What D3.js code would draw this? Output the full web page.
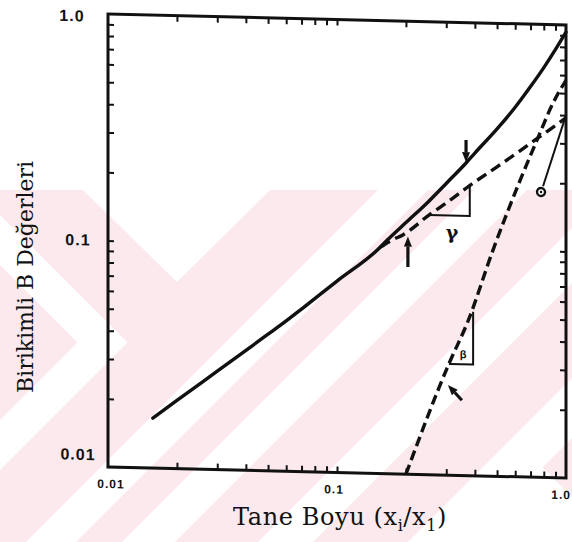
<!DOCTYPE html>
<html>
<head>
<meta charset="utf-8">
<script src="https://cdn.jsdelivr.net/npm/d3@7"></script>
<style>
  body { margin: 0; background: #fff; }
  svg { display: block; }
</style>
</head>
<body>
<svg id="chart" width="572" height="542"></svg>
<script>
// ---- data (log-log, fraction of largest size vs cumulative B) ----
const tickValuesX = [0.01, 0.1, 1];
const tickLabelsX = ["0.01", "0.1", "1.0"];
const tickValuesY = [1, 0.1, 0.01];
const tickLabelsY = ["1.0", "0.1", "0.01"];
const minorTicks = [0.02, 0.03, 0.04, 0.05, 0.06, 0.07, 0.08, 0.09,
                    0.2, 0.3, 0.4, 0.5, 0.6, 0.7, 0.8, 0.9];

// solid curve: cumulative breakage function
const solidX = [0.0157, 0.02, 0.03, 0.05, 0.06, 0.07, 0.1, 0.15, 0.165, 0.2, 0.25, 0.3, 0.366, 0.4, 0.5, 0.6, 0.7, 0.8, 0.9, 1.0];
const solidY = [0.0166, 0.0200, 0.0272, 0.0401, 0.0461, 0.0522, 0.070, 0.097, 0.107, 0.129, 0.160, 0.194, 0.240, 0.266, 0.342, 0.428, 0.530, 0.645, 0.778, 0.930];

// dashed curve with slope gamma
const gammaX = [0.155, 0.175, 0.194, 0.252, 0.3, 0.377, 0.5, 0.623, 0.7, 0.8, 0.9, 1.0];
const gammaY = [0.100, 0.108, 0.1137, 0.140, 0.159, 0.190, 0.2325, 0.273, 0.298, 0.329, 0.359, 0.389];

// dashed line with slope beta
const betaX = [0.2, 0.308, 0.373, 0.48, 0.623, 0.747, 0.878, 1.0];
const betaY = [0.01, 0.031, 0.048, 0.0997, 0.198, 0.308, 0.451, 0.57];

// slope triangles [x0, x1, yLow, yHigh]
const gammaTri = [0.252, 0.38, 0.140, 0.192];
const betaTri = [0.308, 0.393, 0.031, 0.053];

// annotation arrows: [tailX, tailY, headX, headY]
const arrows = [
  [0.204, 0.0822, 0.204, 0.112],
  [0.366, 0.303, 0.366, 0.242],
  [0.351, 0.0215, 0.305, 0.0250]
];

// phi marker and its leader
const phiPoint = [0.778, 0.182];
const phiLeader = [[0.794, 0.193], [1.0, 0.40]];

// annotation labels [x, y, text]
const gammaLabel = [0.318, 0.1187, "γ"];
const betaLabel = [0.355, 0.0344, "β"];

// light pink watermark band shapes behind the chart
const backdropRect = [0, 190, 572, 352];
const backdropGaps = [
  [[83, 190], [270, 190], [177, 282]],
  [[0, 215], [127.5, 342.5], [0, 470], [0, 420], [77.5, 342.5], [0, 265]],
  [[378, 190], [428, 190], [76, 542], [26, 542]],
  [[474, 190], [527, 190], [175, 542], [122, 542]],
  [[572, 228], [572, 283], [313, 542], [258, 542]],
  [[572, 378], [572, 438], [468, 542], [408, 542]],
  [[529, 454], [572, 497], [572, 542], [441, 542]]
];

// ---- layout ----
const frameLeft = 108, frameRight = 566, frameTop = 14, frameBottom = 467;
const skewDeg = 1.375;
const ink = "#111";

const svg = d3.select("#chart");

// watermark
const wm = svg.append("g");
wm.append("rect")
  .attr("x", backdropRect[0]).attr("y", backdropRect[1])
  .attr("width", backdropRect[2]).attr("height", backdropRect[3])
  .attr("fill", "#fce9ed");
wm.selectAll("polygon").data(backdropGaps).join("polygon")
  .attr("points", d => d.map(p => p.join(",")).join(" "))
  .attr("fill", "#ffffff");

const x = d3.scaleLog().domain([0.01, 1]).range([frameLeft, frameRight]);
const y = d3.scaleLog().domain([0.01, 1]).range([frameBottom, frameTop]);

const plot = svg.append("g")
  .attr("transform", `translate(${frameLeft},0) skewY(${skewDeg}) translate(${-frameLeft},0)`);

// axes with inward ticks
const tickStyle = g => {
  g.select(".domain").remove();
  g.selectAll(".tick line").attr("stroke", ink).attr("stroke-width", 2);
  g.selectAll(".tick text").remove();
};
const inner = minorTicks.concat([0.1]);
plot.append("g").attr("transform", `translate(${frameLeft},0)`)
  .call(d3.axisLeft(y).tickValues(inner).tickSize(-6).tickFormat(""))
  .call(tickStyle);
plot.append("g").attr("transform", `translate(${frameRight},0)`)
  .call(d3.axisRight(y).tickValues(inner).tickSize(-6).tickFormat(""))
  .call(tickStyle);
plot.append("g").attr("transform", `translate(0,${frameBottom})`)
  .call(d3.axisBottom(x).tickValues(inner).tickSize(-6).tickFormat(""))
  .call(tickStyle);
plot.append("g").attr("transform", `translate(0,${frameTop})`)
  .call(d3.axisTop(x).tickValues(inner).tickSize(-6).tickFormat(""))
  .call(tickStyle);

// frame
plot.append("rect")
  .attr("x", x(0.01)).attr("y", y(1))
  .attr("width", x(1) - x(0.01)).attr("height", y(0.01) - y(1))
  .attr("fill", "none").attr("stroke", ink).attr("stroke-width", 3);

// tick labels
plot.selectAll(".ylab").data(tickValuesY).join("text")
  .attr("class", "ylab")
  .attr("x", d => frameLeft - 30 + (d === 1 ? -6 : 0))
  .attr("y", d => y(d) + (d === 0.01 ? -12 : (d === 1 ? 2.5 : 0)))
  .attr("text-anchor", "middle").attr("dominant-baseline", "central")
  .attr("font-family", "Liberation Sans, Arial, sans-serif")
  .attr("font-weight", "bold").attr("font-size", 16).attr("letter-spacing", 1)
  .attr("fill", ink)
  .text((d, i) => tickLabelsY[i]);

plot.selectAll(".xlab").data(tickValuesX).join("text")
  .attr("class", "xlab")
  .attr("x", (d, i) => i === 2 ? 571 : x(d) + (i === 0 ? 3 : -3))
  .attr("y", frameBottom + 17)
  .attr("text-anchor", (d, i) => i === 2 ? "end" : "middle")
  .attr("dominant-baseline", "central")
  .attr("font-family", "Liberation Sans, Arial, sans-serif")
  .attr("font-weight", "bold").attr("font-size", 12).attr("letter-spacing", 1)
  .attr("fill", ink)
  .text((d, i) => tickLabelsX[i]);

// curves
const line = d3.line().x(d => x(d[0])).y(d => y(d[1])).curve(d3.curveMonotoneX);
plot.append("path")
  .attr("d", line(d3.zip(solidX, solidY)))
  .attr("fill", "none").attr("stroke", ink).attr("stroke-width", 3.4)
  .attr("stroke-linecap", "round");
plot.append("path")
  .attr("d", line(d3.zip(gammaX, gammaY)))
  .attr("fill", "none").attr("stroke", ink).attr("stroke-width", 3.4)
  .attr("stroke-dasharray", "11,6");
plot.append("path")
  .attr("d", line(d3.zip(betaX, betaY)))
  .attr("fill", "none").attr("stroke", ink).attr("stroke-width", 3.4)
  .attr("stroke-dasharray", "10,5");

// slope triangles
const tri = t => `M${x(t[0])},${y(t[2])}H${x(t[1])}V${y(t[3])}`;
[gammaTri, betaTri].forEach(t => {
  plot.append("path").attr("d", tri(t))
    .attr("fill", "none").attr("stroke", ink).attr("stroke-width", 2);
});

// arrows
arrows.forEach(a => {
  const x0 = x(a[0]), y0 = y(a[1]), x1 = x(a[2]), y1 = y(a[3]);
  const dx = x1 - x0, dy = y1 - y0, len = Math.hypot(dx, dy);
  const ux = dx / len, uy = dy / len, hl = 10, hw = 4;
  const bx = x1 - ux * hl, by = y1 - uy * hl;
  plot.append("line")
    .attr("x1", x0).attr("y1", y0).attr("x2", bx).attr("y2", by)
    .attr("stroke", ink).attr("stroke-width", 3.2);
  plot.append("polygon")
    .attr("points", [[x1, y1], [bx - uy * hw, by + ux * hw], [bx + uy * hw, by - ux * hw]]
      .map(p => p.join(",")).join(" "))
    .attr("fill", ink);
});

// phi marker with leader
plot.append("line")
  .attr("x1", x(phiLeader[0][0])).attr("y1", y(phiLeader[0][1]))
  .attr("x2", x(phiLeader[1][0])).attr("y2", y(phiLeader[1][1]))
  .attr("stroke", ink).attr("stroke-width", 2);
plot.append("circle")
  .attr("cx", x(phiPoint[0])).attr("cy", y(phiPoint[1])).attr("r", 4)
  .attr("fill", "#fff").attr("stroke", ink).attr("stroke-width", 2.4);
plot.append("circle")
  .attr("cx", x(phiPoint[0])).attr("cy", y(phiPoint[1])).attr("r", 1.2)
  .attr("fill", ink);

// slope labels
plot.append("text")
  .attr("x", x(gammaLabel[0])).attr("y", y(gammaLabel[1]))
  .attr("text-anchor", "middle").attr("dominant-baseline", "central")
  .attr("font-family", "DejaVu Serif, serif").attr("font-weight", "bold")
  .attr("font-size", 19).attr("fill", ink).text(gammaLabel[2]);
plot.append("text")
  .attr("x", x(betaLabel[0])).attr("y", y(betaLabel[1]))
  .attr("text-anchor", "middle").attr("dominant-baseline", "central")
  .attr("font-family", "Liberation Sans, Arial, sans-serif").attr("font-weight", "bold")
  .attr("font-size", 11).attr("fill", ink).text(betaLabel[2]);

// axis titles
const xt = svg.append("text")
  .attr("x", 340).attr("y", 525)
  .attr("text-anchor", "middle").attr("letter-spacing", 0.6)
  .attr("font-family", "DejaVu Serif, serif").attr("font-size", 24).attr("fill", ink);
xt.append("tspan").text("Tane Boyu (x");
xt.append("tspan").attr("dy", 6).attr("font-size", 16).text("i");
xt.append("tspan").attr("dy", -6).text("/x");
xt.append("tspan").attr("dy", 6).attr("font-size", 16).text("1");
xt.append("tspan").attr("dy", -6).text(")");

svg.append("text")
  .attr("transform", "translate(33,277) rotate(-90)")
  .attr("text-anchor", "middle")
  .attr("font-family", "DejaVu Serif, serif").attr("font-size", 22).attr("fill", ink)
  .text("Birikimli B Değerleri");
</script>
</body>
</html>
